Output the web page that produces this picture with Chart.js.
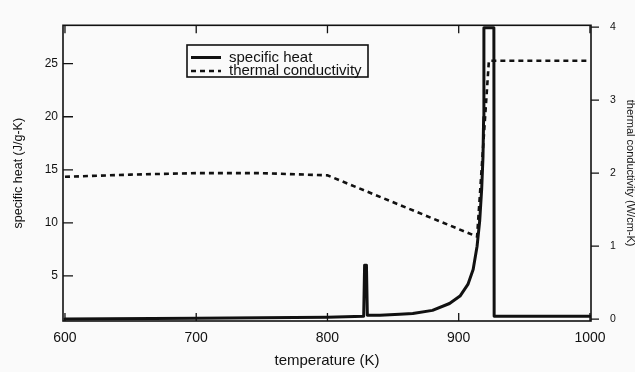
<!DOCTYPE html>
<html>
<head>
<meta charset="utf-8">
<script src="https://cdn.jsdelivr.net/npm/chart.js@4"></script>
<style>
  html,body{margin:0;padding:0;background:#fafafa;}
  #wrap{width:635px;height:372px;}
</style>
</head>
<body>
<div id="wrap"><canvas id="c" width="635" height="372"></canvas></div>
<script>
// ---------------- DATA ----------------
const heatTemp = [600, 700, 800, 827.6, 828.3, 829.7, 830.4, 840, 855, 865, 880, 893, 901, 907, 911, 914, 916, 917.5, 918.5, 919, 919.2, 926.8, 927, 1000];
const heatVal  = [0.95, 1.0, 1.1, 1.2, 6.0, 6.0, 1.3, 1.3, 1.38, 1.45, 1.75, 2.4, 3.1, 4.2, 5.6, 7.8, 10.2, 13.2, 16.2, 20, 28.4, 28.4, 1.2, 1.2];
const condTemp = [600, 650, 700, 750, 800, 914, 923, 1000];
const condVal  = [1.95, 1.98, 2.0, 2.0, 1.97, 1.13, 3.54, 3.54];

const xTicks = [600, 700, 800, 900, 1000];
const leftTicks = [5, 10, 15, 20, 25];
const rightTicks = [0, 1, 2, 3, 4];

const seriesNames = ["specific heat", "thermal conductivity"];

const FONT = "'Liberation Sans', Arial, Helvetica, sans-serif";
const INK = "#111";

function pts(xs, ys){ return xs.map((x,i)=>({x:x, y:ys[i]})); }
function fixTicks(list){ return s=>{ s.ticks = list.map(v=>({value:v})); }; }

// ---------------- FRAME + INWARD TICKS ----------------
const framePlugin = {
  id: "frame",
  afterDraw(chart){
    const {ctx, chartArea:a, scales} = chart;
    ctx.save();
    ctx.strokeStyle = INK;
    ctx.lineWidth = 1.6;
    ctx.strokeRect(a.left, a.top, a.right-a.left, a.bottom-a.top);
    ctx.lineWidth = 1.3;
    ctx.beginPath();
    xTicks.forEach(v=>{
      const px = scales.x.getPixelForValue(v);
      ctx.moveTo(px, a.bottom); ctx.lineTo(px, a.bottom-8);
      ctx.moveTo(px, a.top); ctx.lineTo(px, a.top+8);
    });
    leftTicks.forEach(v=>{
      const py = scales.y.getPixelForValue(v);
      ctx.moveTo(a.left, py); ctx.lineTo(a.left+10, py);
    });
    rightTicks.forEach(v=>{
      const py = scales.y2.getPixelForValue(v);
      ctx.moveTo(a.right, py); ctx.lineTo(a.right+8, py);
    });
    ctx.stroke();
    ctx.restore();
  }
};

// ---------------- LEGEND BOX ----------------
const legendBox = {
  id: "legendBox",
  afterDraw(chart){
    const ctx = chart.ctx;
    const x0 = 187, y0 = 45, w = 181, h = 32;
    ctx.save();
    ctx.fillStyle = "#fafafa";
    ctx.fillRect(x0, y0, w, h);
    ctx.strokeStyle = INK;
    ctx.lineWidth = 1.6;
    ctx.strokeRect(x0, y0, w, h);
    chart.data.datasets.forEach((ds,i)=>{
      const yy = y0 + 12.5 + i*13.5;
      ctx.beginPath();
      ctx.lineWidth = ds.borderWidth;
      ctx.setLineDash(ds.borderDash || []);
      ctx.moveTo(x0+4, yy); ctx.lineTo(x0+34, yy);
      ctx.stroke();
      ctx.setLineDash([]);
      ctx.fillStyle = INK;
      ctx.font = "15px " + FONT;
      ctx.textBaseline = "middle";
      ctx.fillText(ds.label, x0+42, yy);
    });
    ctx.restore();
  }
};

new Chart(document.getElementById("c"), {
  type: "line",
  data: {
    datasets: [
      {label: seriesNames[0], data: pts(heatTemp, heatVal), yAxisID: "y",
       borderColor: INK, borderWidth: 3, pointRadius: 0, tension: 0,
       borderJoinStyle: "round", borderCapStyle: "round"},
      {label: seriesNames[1], data: pts(condTemp, condVal), yAxisID: "y2",
       borderColor: INK, borderWidth: 2.6, borderDash: [5,4], pointRadius: 0, tension: 0}
    ]
  },
  options: {
    responsive: false,
    animation: false,
    layout: {padding: {top: 13, left: 0, right: 0, bottom: 0}},
    plugins: {legend: {display: false}, tooltip: {enabled: false}},
    scales: {
      x: {
        type: "linear", min: 598.5, max: 1000.8,
        afterBuildTicks: fixTicks(xTicks),
        afterFit: s=>{ s.height = 51; },
        grid: {display: false, drawTicks: false}, border: {display: false},
        ticks: {color: INK, padding: 9, maxRotation: 0, font: {family: FONT, size: 14},
                callback: v=>String(v)},
        title: {display: true, text: "temperature (K)", color: INK,
                font: {family: FONT, size: 15}, padding: {top: 0, bottom: 2}}
      },
      y: {
        position: "left", min: 0.75, max: 28.62,
        afterBuildTicks: fixTicks(leftTicks),
        afterFit: s=>{ s.width = 63; },
        grid: {display: false, drawTicks: false}, border: {display: false},
        ticks: {color: INK, padding: 5, font: {family: FONT, size: 12}},
        title: {display: true, text: "specific heat (J/g-K)", color: INK,
                font: {family: FONT, size: 12.5}, padding: {top: 11, bottom: 0}}
      },
      y2: {
        position: "right", min: -0.026, max: 4.026,
        afterBuildTicks: fixTicks(rightTicks),
        afterFit: s=>{ s.width = 44; },
        grid: {display: false, drawTicks: false}, border: {display: false},
        ticks: {color: INK, padding: 19, font: {family: FONT, size: 10.5}},
        title: {display: true, text: "thermal conductivity (W/cm-K)", color: INK,
                font: {family: FONT, size: 11, lineHeight: 0.9}, padding: 0}
      }
    }
  },
  plugins: [framePlugin, legendBox]
});
</script>
</body>
</html>
